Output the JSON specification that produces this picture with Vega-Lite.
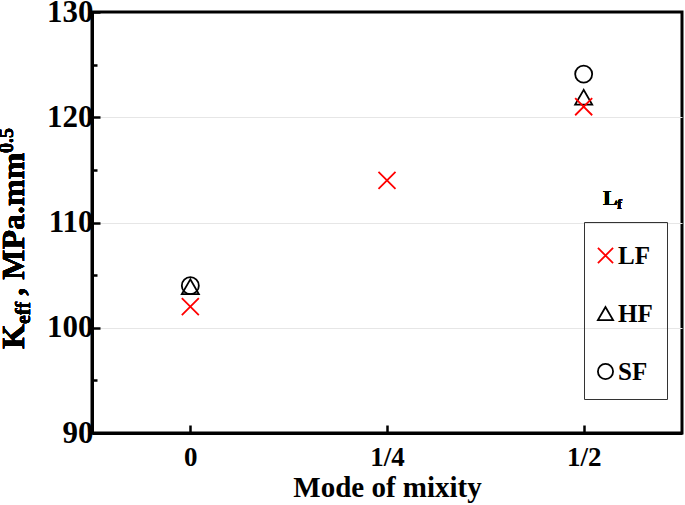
{
  "$schema": "https://vega.github.io/schema/vega-lite/v6.json",
  "width": 590,
  "height": 421,
  "autosize": {"type": "none"},
  "padding": {"left": 92, "top": 12, "right": 3, "bottom": 72},
  "background": "white",
  "config": {
    "font": "Liberation Serif",
    "view": {"stroke": "black", "strokeWidth": 3},
    "text": {"font": "Liberation Serif", "fontWeight": "bold", "color": "black"}
  },
  "data": {
    "values": [
      {"mix": 0, "K": 104.0, "series": "SF"},
      {"mix": 0.5, "K": 124.1, "series": "SF"},
      {"mix": 0, "K": 103.9, "series": "HF"},
      {"mix": 0.5, "K": 121.9, "series": "HF"},
      {"mix": 0, "K": 102.0, "series": "LF"},
      {"mix": 0.25, "K": 114.0, "series": "LF"},
      {"mix": 0.5, "K": 121.0, "series": "LF"}
    ]
  },
  "layer": [
    {
      "mark": {"type": "point", "filled": false, "strokeWidth": 1.8, "size": 290, "opacity": 1},
      "encoding": {
        "x": {
          "field": "mix", "type": "quantitative",
          "scale": {"domain": [-0.125, 0.625], "nice": false, "zero": false},
          "axis": {
            "values": [0, 0.25, 0.5],
            "labelExpr": "datum.value === 0 ? '0' : (datum.value === 0.25 ? '1/4' : '1/2')",
            "title": "Mode of mixity",
            "titleFont": "Liberation Serif", "titleFontWeight": "bold", "titleFontSize": 29, "titleColor": "black", "titlePadding": 3,
            "labelFont": "Liberation Serif", "labelFontWeight": "bold", "labelFontSize": 27, "labelColor": "black", "labelPadding": 19,
            "domainColor": "black", "domainWidth": 3,
            "tickColor": "black", "tickWidth": 2.5, "tickSize": -8,
            "grid": false
          }
        },
        "y": {
          "field": "K", "type": "quantitative",
          "scale": {"domain": [90, 130], "nice": false, "zero": false},
          "axis": {
            "values": [90, 95, 100, 105, 110, 115, 120, 125, 130],
            "labelExpr": "datum.value % 10 === 0 ? datum.label : ''",
            "title": null,
            "labelFont": "Liberation Serif", "labelFontWeight": "bold", "labelFontSize": 31, "labelColor": "black", "labelPadding": 7,
            "domainColor": "black", "domainWidth": 3,
            "tickColor": "black", "tickWidth": 2.5,
            "tickSize": {"condition": {"test": "datum.value % 10 === 0", "value": -8}, "value": -5},
            "grid": true, "gridColor": "#e6e6e6", "gridWidth": 1,
            "gridOpacity": {"condition": {"test": "datum.value % 10 === 0 && datum.value > 90 && datum.value < 130", "value": 1}, "value": 0}
          }
        },
        "shape": {
          "field": "series", "type": "nominal",
          "scale": {"domain": ["LF", "HF", "SF"], "range": ["M-1,-1L1,1M-1,1L1,-1", "triangle-up", "circle"]},
          "legend": {
            "title": " ", "titleFontSize": 4, "titlePadding": 3,
            "orient": "none", "legendX": 492, "legendY": 210,
            "strokeColor": "#333333", "padding": 14, "rowPadding": 32,
            "labelFont": "Liberation Serif", "labelFontWeight": "bold", "labelFontSize": 25, "labelColor": "black", "labelOffset": 0,
            "symbolSize": 230, "symbolStrokeWidth": 1.8, "symbolOffset": -5
          }
        },
        "color": {
          "field": "series", "type": "nominal",
          "scale": {"domain": ["LF", "HF", "SF"], "range": ["#ff0000", "#000000", "#000000"]},
          "legend": {
            "title": " ", "titleFontSize": 4, "titlePadding": 3,
            "orient": "none", "legendX": 492, "legendY": 210,
            "strokeColor": "#333333", "padding": 14, "rowPadding": 32,
            "labelFont": "Liberation Serif", "labelFontWeight": "bold", "labelFontSize": 25, "labelColor": "black", "labelOffset": 0,
            "symbolSize": 230, "symbolStrokeWidth": 1.8, "symbolOffset": -5
          }
        }
      }
    },
    {
      "mark": {"type": "text", "text": "K", "fontSize": 32, "angle": 270, "align": "left", "baseline": "alphabetic"},
      "encoding": {"x": {"datum": -0.2114, "type": "quantitative"}, "y": {"datum": 97.98, "type": "quantitative"}}
    },
    {
      "mark": {"type": "text", "text": "eff", "fontSize": 20, "angle": 270, "align": "left", "baseline": "alphabetic"},
      "encoding": {"x": {"datum": -0.2038, "type": "quantitative"}, "y": {"datum": 100.36, "type": "quantitative"}}
    },
    {
      "mark": {"type": "text", "text": ", MPa.mm", "fontSize": 32, "angle": 270, "align": "left", "baseline": "alphabetic"},
      "encoding": {"x": {"datum": -0.2114, "type": "quantitative"}, "y": {"datum": 103.05, "type": "quantitative"}}
    },
    {
      "mark": {"type": "text", "text": "0.5", "fontSize": 20, "angle": 270, "align": "left", "baseline": "alphabetic"},
      "encoding": {"x": {"datum": -0.2254, "type": "quantitative"}, "y": {"datum": 116.6, "type": "quantitative"}}
    },
    {
      "mark": {"type": "text", "text": "L", "fontSize": 22, "align": "left", "baseline": "alphabetic"},
      "encoding": {"x": {"datum": 0.5246, "type": "quantitative"}, "y": {"datum": 111.66, "type": "quantitative"}}
    },
    {
      "mark": {"type": "text", "text": "f", "fontSize": 15, "align": "left", "baseline": "alphabetic"},
      "encoding": {"x": {"datum": 0.5425, "type": "quantitative"}, "y": {"datum": 111.28, "type": "quantitative"}}
    }
  ]
}
